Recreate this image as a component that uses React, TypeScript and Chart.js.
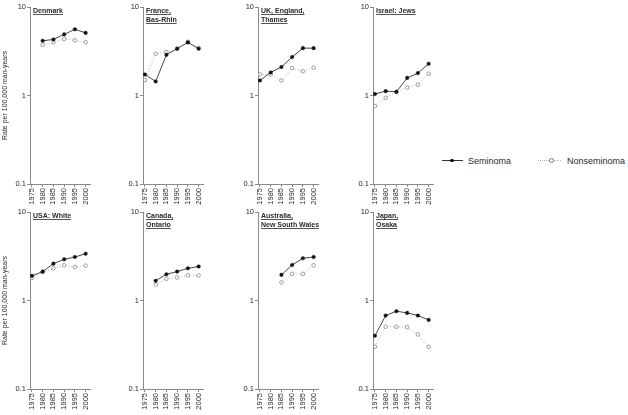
import React, { useEffect, useRef } from "react";
import { Chart, registerables } from "chart.js";

Chart.register(...registerables);

const FONT = "'Liberation Sans', Arial, Helvetica, sans-serif";

const years = [1975, 1980, 1985, 1990, 1995, 2000];
const yTickValues = [0.1, 1, 10];
const yAxisTitle = "Rate per 100,000 man-years";
const seriesNames = ["Seminoma", "Nonseminoma"];

const titleDenmark = ["Denmark"];
const titleFrance = ["France,", "Bas-Rhin"];
const titleUK = ["UK, England,", "Thames"];
const titleIsrael = ["Israel: Jews"];
const titleUSA = ["USA: White"];
const titleCanada = ["Canada,", "Ontario"];
const titleAustralia = ["Australia,", "New South Wales"];
const titleJapan = ["Japan,", "Osaka"];

const denmarkSem = [null, 4.15, 4.3, 4.9, 5.6, 5.1];
const denmarkNon = [null, 3.75, 4.0, 4.35, 4.2, 4.0];
const franceSem = [1.73, 1.44, 2.88, 3.38, 3.98, 3.38];
const franceNon = [1.5, 2.96, 3.1, 3.38, 4.05, 3.45];
const ukSem = [1.48, 1.82, 2.1, 2.72, 3.43, 3.43];
const ukNon = [1.73, 1.73, 1.48, 2.04, 1.88, 2.06];
const israelSem = [1.04, 1.12, 1.1, 1.58, 1.79, 2.28];
const israelNon = [0.76, 0.94, 1.1, 1.23, 1.33, 1.76];
const usaSem = [1.9, 2.12, 2.61, 2.92, 3.1, 3.38];
const usaNon = [1.8, 2.1, 2.31, 2.5, 2.4, 2.48];
const canadaSem = [null, 1.67, 1.98, 2.12, 2.31, 2.42];
const canadaNon = [null, 1.51, 1.76, 1.82, 1.92, 1.92];
const australiaSem = [null, null, 1.95, 2.52, 3.0, 3.1];
const australiaNon = [null, null, 1.6, 2.0, 2.0, 2.5];
const japanSem = [0.4, 0.676, 0.757, 0.724, 0.676, 0.604];
const japanNon = [0.3, 0.505, 0.505, 0.5, 0.414, 0.3];

const panels = [
  { title: titleDenmark, sem: denmarkSem, non: denmarkNon },
  { title: titleFrance, sem: franceSem, non: franceNon },
  { title: titleUK, sem: ukSem, non: ukNon },
  { title: titleIsrael, sem: israelSem, non: israelNon },
  { title: titleUSA, sem: usaSem, non: usaNon },
  { title: titleCanada, sem: canadaSem, non: canadaNon },
  { title: titleAustralia, sem: australiaSem, non: australiaNon },
  { title: titleJapan, sem: japanSem, non: japanNon },
];

const AXIS_X = [30, 143, 258, 373];
const ROW_TOP = [0, 205];
const Y_W = 30;
const PAD_TOP = 7;
const AREA_W = 63;
const PAD_R = 3;
const AREA_H = 177;
const X_H = 28;
const CW = Y_W + AREA_W + PAD_R;
const CH = PAD_TOP + AREA_H + X_H;

const AXIS_COLOR = "#8a8a8a";
const TEXT_COLOR = "#2a2a2a";

type PanelData = { title: string[]; sem: (number | null)[]; non: (number | null)[] };

function Panel({ p, left, top, showYTitle }: { p: PanelData; left: number; top: number; showYTitle: boolean }) {
  const ref = useRef<HTMLCanvasElement>(null);
  useEffect(() => {
    const titlePlugin = {
      id: "panelTitle",
      afterDraw(chart: any) {
        const { ctx, chartArea } = chart;
        ctx.save();
        ctx.font = `bold 7px ${FONT}`;
        ctx.fillStyle = TEXT_COLOR;
        ctx.strokeStyle = TEXT_COLOR;
        ctx.lineWidth = 0.8;
        ctx.textBaseline = "alphabetic";
        p.title.forEach((line, i) => {
          const x = chartArea.left + 3;
          const y = chartArea.top + 6 + i * 9;
          ctx.fillText(line, x, y);
          const w = ctx.measureText(line).width;
          ctx.beginPath();
          ctx.moveTo(x, y + 1.5);
          ctx.lineTo(x + w, y + 1.5);
          ctx.stroke();
        });
        ctx.restore();
      },
    };
    const chart = new Chart(ref.current!, {
      type: "line",
      data: {
        datasets: [
          {
            label: seriesNames[0],
            data: years.map((x, i) => ({ x, y: p.sem[i] })) as any,
            borderColor: "#333",
            borderWidth: 0.9,
            pointRadius: 1.8,
            pointBackgroundColor: "#111",
            pointBorderColor: "#111",
            pointBorderWidth: 0.4,
            fill: false,
          },
          {
            label: seriesNames[1],
            data: years.map((x, i) => ({ x, y: p.non[i] })) as any,
            borderColor: "#a8a8a8",
            borderWidth: 0.9,
            borderDash: [1, 2],
            pointRadius: 1.8,
            pointBackgroundColor: "#fff",
            pointBorderColor: "#777",
            pointBorderWidth: 0.7,
            fill: false,
          },
        ],
      },
      options: {
        responsive: false,
        animation: false,
        layout: { padding: { top: PAD_TOP, right: PAD_R, left: 0, bottom: 0 } },
        plugins: { legend: { display: false }, tooltip: { enabled: false } },
        scales: {
          x: {
            type: "linear",
            min: 1974.1,
            max: 2002.2,
            afterBuildTicks: (s: any) => {
              s.ticks = years.map((v) => ({ value: v }));
            },
            afterFit: (s: any) => {
              s.height = X_H;
            },
            ticks: {
              autoSkip: false,
              minRotation: 90,
              maxRotation: 90,
              padding: 1,
              color: TEXT_COLOR,
              font: { family: FONT, size: 7.5 },
              callback: (v: any) => String(v),
            },
            grid: { display: true, drawOnChartArea: false, drawTicks: true, tickLength: 3, color: AXIS_COLOR },
            border: { display: true, color: AXIS_COLOR },
          },
          y: {
            type: "logarithmic",
            min: 0.1,
            max: 10,
            afterBuildTicks: (s: any) => {
              s.ticks = yTickValues.map((v) => ({ value: v }));
            },
            afterFit: (s: any) => {
              s.width = Y_W;
            },
            ticks: {
              padding: 1,
              color: TEXT_COLOR,
              font: { family: FONT, size: 7.5 },
              callback: (v: any) => (Math.abs(v - 0.1) < 1e-9 ? "0.1" : String(v)),
            },
            grid: { display: true, drawOnChartArea: false, drawTicks: true, tickLength: 3, color: AXIS_COLOR },
            border: { display: true, color: AXIS_COLOR },
            title: {
              display: showYTitle,
              text: yAxisTitle,
              color: TEXT_COLOR,
              font: { family: FONT, size: 7 },
              padding: { top: 1, bottom: 0 },
            },
          },
        },
      } as any,
      plugins: [titlePlugin],
    });
    return () => chart.destroy();
  }, []);
  return (
    <canvas
      ref={ref}
      width={CW}
      height={CH}
      style={{ position: "absolute", left, top, width: CW, height: CH }}
    />
  );
}

export default function App() {
  return (
    <div
      style={{
        position: "absolute",
        left: 0,
        top: 0,
        width: 628,
        height: 415,
        overflow: "hidden",
        background: "#fff",
        fontFamily: FONT,
      }}
    >
      {panels.map((p, i) => {
        const col = i % 4;
        const row = Math.floor(i / 4);
        return (
          <Panel
            key={i}
            p={p}
            left={AXIS_X[col] - Y_W}
            top={ROW_TOP[row]}
            showYTitle={col === 0}
          />
        );
      })}
      {/* legend */}
      <div style={{ position: "absolute", left: 442, top: 160, width: 21, height: 0, borderTop: "1px solid #333" }} />
      <div style={{ position: "absolute", left: 450, top: 158.5, width: 3.6, height: 3.6, borderRadius: 2, background: "#111" }} />
      <div style={{ position: "absolute", left: 468, top: 154.5, fontSize: 9, lineHeight: "12px", color: TEXT_COLOR, whiteSpace: "nowrap" }}>
        {seriesNames[0]}
      </div>
      <div style={{ position: "absolute", left: 538, top: 160, width: 23, height: 0, borderTop: "1px dotted #b0b0b0" }} />
      <div
        style={{
          position: "absolute",
          left: 548.5,
          top: 158,
          width: 3,
          height: 3,
          borderRadius: 3,
          border: "0.7px solid #777",
          background: "#fff",
        }}
      />
      <div style={{ position: "absolute", left: 567, top: 154.5, fontSize: 9, lineHeight: "12px", color: TEXT_COLOR, whiteSpace: "nowrap" }}>
        {seriesNames[1]}
      </div>
    </div>
  );
}
